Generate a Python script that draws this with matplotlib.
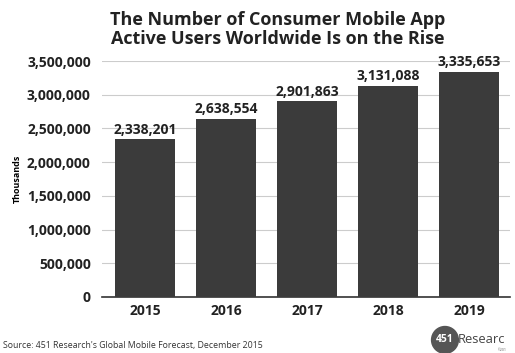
import numpy as np
import matplotlib.pyplot as plt
from matplotlib.patches import Ellipse

years = ['2015', '2016', '2017', '2018', '2019']
users = [2338201, 2638554, 2901863, 3131088, 3335653]
yticks = [0, 500000, 1000000, 1500000, 2000000, 2500000, 3000000, 3500000]

plt.rcParams['font.family'] = ['Open Sans', 'DejaVu Sans']

fig = plt.figure(figsize=(5.15, 3.53), dpi=100)
ax = fig.add_axes([0.198, 0.159, 0.792, 0.668])

x = np.arange(len(years))
ax.bar(x, users, width=0.74, color='#3b3b3b', zorder=3)
for xi, v in zip(x, users):
    ax.text(xi, v + 40000, f'{v:,}', ha='center', va='bottom',
            fontsize=10, fontweight='bold', color='#222222')

ax.set_xlim(-0.53, 4.5)
ax.set_ylim(0, 3500000)
ax.set_yticks(yticks)
ax.set_yticklabels([f'{t:,}' for t in yticks], fontsize=10, fontweight='bold', color='#222222')
ax.set_xticks(x)
ax.set_xticklabels(years, fontsize=10, fontweight='bold', color='#222222')
ax.grid(axis='y', color='#cccccc', linewidth=0.8, zorder=0)
ax.tick_params(axis='y', length=0, pad=8)
ax.tick_params(axis='x', length=0, pad=5)
for s in ['top', 'right', 'left']:
    ax.spines[s].set_visible(False)
ax.spines['bottom'].set_color('#333333')
ax.spines['bottom'].set_linewidth(1.2)
ax.set_ylabel('Thousands', fontsize=6.5, fontweight='bold', labelpad=4)

fig.text(0.54, 0.968, 'The Number of Consumer Mobile App\nActive Users Worldwide Is on the Rise',
         ha='center', va='top', fontsize=13, fontweight='bold', color='#222222', linespacing=1.05)

fig.text(0.005, 0.008, "Source: 451 Research's Global Mobile Forecast, December 2015",
         fontsize=6.3, color='#333333', ha='left', va='bottom')

# logo
logo = Ellipse((0.864, 0.037), 0.052, 0.076, transform=fig.transFigure,
               color='#555555', zorder=5)
fig.patches.append(logo)
fig.text(0.864, 0.037, '451', ha='center', va='center', fontsize=7.5,
         fontweight='bold', color='white', zorder=6)
fig.text(0.889, 0.037, 'Researc', ha='left', va='center', fontsize=9.3,
         color='#444444')
fig.text(0.985, 0.008, '©201', ha='right', va='center', fontsize=2.5, color='#666666')

fig.savefig('out.png', dpi=100)
